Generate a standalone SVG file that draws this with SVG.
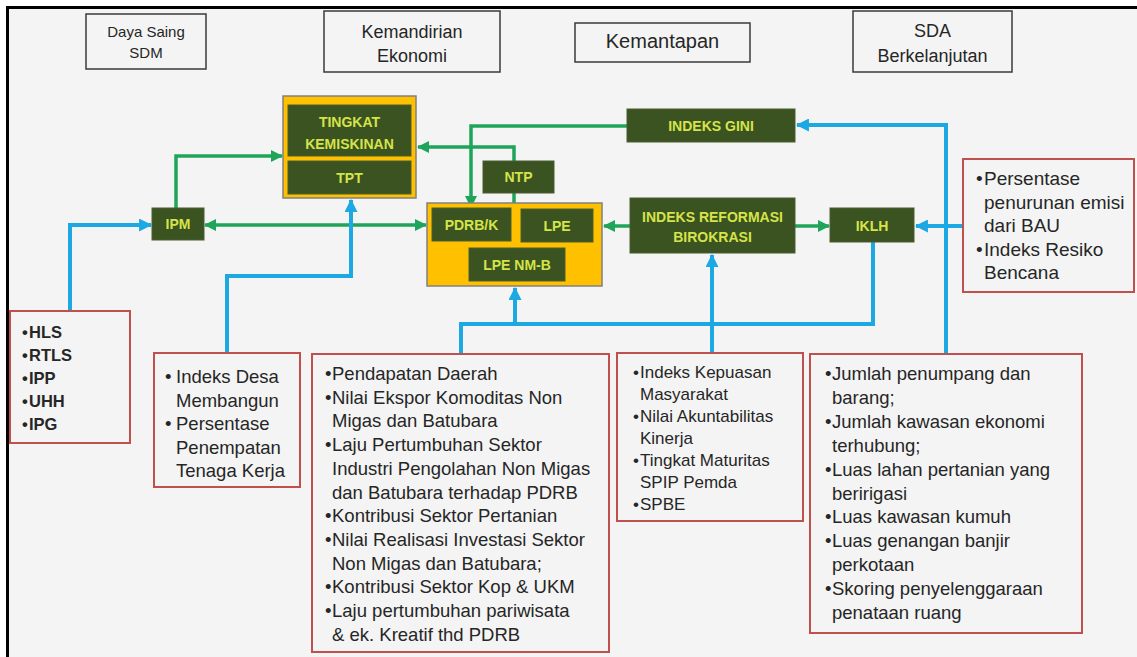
<svg xmlns="http://www.w3.org/2000/svg" width="1137" height="657" viewBox="0 0 1137 657">
<defs>
<style>
text{font-family:"Liberation Sans",Arial,sans-serif}
.hdr rect{fill:#f4f4f4;stroke:#3a3a3a;stroke-width:1.5}
.hdr text{fill:#262626;text-anchor:middle}
.cont{fill:#ffc000;stroke:#808080;stroke-width:1.5}
.node rect.n{fill:#3b5320;stroke:#4a5e30;stroke-width:1}
.node text{fill:#d4e44a;font-size:14px;font-weight:bold;text-anchor:middle}
.ind rect{fill:#f4f4f4;stroke:#c0504d;stroke-width:2}
.ind text{fill:#262626}
.gl{fill:none;stroke:#1fa55a;stroke-width:3.5}
.bl{fill:none;stroke:#1ca8e3;stroke-width:4}
</style>
<marker id="ag" viewBox="0 0 12 12" markerUnits="userSpaceOnUse" markerWidth="12" markerHeight="12" refX="11" refY="6" orient="auto-start-reverse"><path d="M0,0 L12,6 L0,12 z" fill="#1fa55a"/></marker>
<marker id="ab" viewBox="0 0 12 12" markerUnits="userSpaceOnUse" markerWidth="13" markerHeight="13" refX="11" refY="6" orient="auto-start-reverse"><path d="M0,0 L12,6 L0,12 z" fill="#1ca8e3"/></marker>
</defs>
<rect x="0" y="0" width="1137" height="657" fill="#ffffff"/>
<rect x="7.5" y="7.5" width="1140" height="660" fill="#f4f4f4" stroke="#000" stroke-width="3"/>

<g id="hdr-daya-saing" class="hdr"><rect x="86" y="14" width="120" height="55"/><text x="146" y="37" font-size="15">Daya Saing</text><text x="146" y="58" font-size="15">SDM</text></g>
<g id="hdr-kemandirian" class="hdr"><rect x="324" y="11" width="176" height="61"/><text x="412" y="38" font-size="18">Kemandirian</text><text x="412" y="62" font-size="18">Ekonomi</text></g>
<g id="hdr-kemantapan" class="hdr"><rect x="575" y="23" width="175" height="39"/><text x="662.5" y="48" font-size="20">Kemantapan</text></g>
<g id="hdr-sda" class="hdr"><rect x="853" y="11" width="159" height="61"/><text x="932.5" y="37" font-size="18">SDA</text><text x="932.5" y="62" font-size="18">Berkelanjutan</text></g>

<g id="connectors">
<path class="gl" d="M176,208 V156 H282" marker-end="url(#ag)"/>
<path class="gl" d="M205,225 H426" marker-start="url(#ag)" marker-end="url(#ag)"/>
<path class="gl" d="M627,126 H471 V207" marker-end="url(#ag)"/>
<path class="gl" d="M514,203 V147 H418" marker-end="url(#ag)"/>
<path class="gl" d="M630,226 H604" marker-end="url(#ag)"/>
<path class="gl" d="M795,226 H829" marker-end="url(#ag)"/>
<path class="bl" d="M70,311 V225 H151" marker-end="url(#ab)"/>
<path class="bl" d="M227,353 V276 H351 V200" marker-end="url(#ab)"/>
<path class="bl" d="M461,354 V324 H873 V242"/>
<path class="bl" d="M515,324 V288" marker-end="url(#ab)"/>
<path class="bl" d="M712,353 V255" marker-end="url(#ab)"/>
<path class="bl" d="M946,354 V125 H797" marker-end="url(#ab)"/>
<path class="bl" d="M963,226 H916" marker-end="url(#ab)"/>
</g>

<g id="kemiskinan-group" class="node">
<rect class="cont" x="283" y="96" width="133" height="102"/>
<g id="tingkat-kemiskinan"><rect class="n" x="288" y="105" width="123" height="51"/><text x="349.5" y="127">TINGKAT</text><text x="349.5" y="149">KEMISKINAN</text></g>
<g id="tpt"><rect class="n" x="288" y="161" width="123" height="33"/><text x="349.5" y="183">TPT</text></g>
</g>
<g id="ntp" class="node"><rect class="n" x="483" y="161" width="71" height="32"/><text x="518.5" y="182">NTP</text></g>
<g id="ipm" class="node"><rect class="n" x="152" y="208" width="52" height="32"/><text x="178" y="229">IPM</text></g>
<g id="pdrb-group" class="node">
<rect class="cont" x="427" y="203" width="175" height="83"/>
<g id="pdrbk"><rect class="n" x="432" y="208" width="79" height="33"/><text x="471.5" y="230">PDRB/K</text></g>
<g id="lpe"><rect class="n" x="521" y="209" width="72" height="33"/><text x="557" y="231">LPE</text></g>
<g id="lpe-nmb"><rect class="n" x="469" y="248" width="96" height="33"/><text x="517" y="270">LPE NM-B</text></g>
</g>
<g id="indeks-gini" class="node"><rect class="n" x="627" y="109" width="168" height="33"/><text x="711" y="131">INDEKS GINI</text></g>
<g id="indeks-reformasi" class="node"><rect class="n" x="630" y="198" width="165" height="55"/><text x="712.5" y="222">INDEKS REFORMASI</text><text x="712.5" y="242">BIROKRASI</text></g>
<g id="iklh" class="node"><rect class="n" x="830" y="208" width="84" height="34"/><text x="872" y="231">IKLH</text></g>

<g id="ind-sdm" class="ind"><rect x="10" y="311" width="120" height="132"/>
<text font-size="16.5" font-weight="bold">
<tspan x="22" y="338">•</tspan><tspan x="29">HLS</tspan>
<tspan x="22" y="361">•</tspan><tspan x="29">RTLS</tspan>
<tspan x="22" y="384">•</tspan><tspan x="29">IPP</tspan>
<tspan x="22" y="407">•</tspan><tspan x="29">UHH</tspan>
<tspan x="22" y="430">•</tspan><tspan x="29">IPG</tspan>
</text></g>

<g id="ind-desa" class="ind"><rect x="154" y="353" width="146" height="134"/>
<text font-size="18.5">
<tspan x="165" y="383">•</tspan><tspan x="176">Indeks Desa</tspan>
<tspan x="176" y="406.5">Membangun</tspan>
<tspan x="165" y="430">•</tspan><tspan x="176">Persentase</tspan>
<tspan x="176" y="453.5">Penempatan</tspan>
<tspan x="176" y="477">Tenaga Kerja</tspan>
</text></g>

<g id="ind-ekonomi" class="ind"><rect x="312" y="354" width="297" height="298"/>
<text font-size="18.5">
<tspan x="325" y="380">•</tspan><tspan x="332">Pendapatan Daerah</tspan>
<tspan x="325" y="403.7">•</tspan><tspan x="332">Nilai Ekspor Komoditas Non</tspan>
<tspan x="332" y="427.4">Migas dan Batubara</tspan>
<tspan x="325" y="451.1">•</tspan><tspan x="332">Laju Pertumbuhan Sektor</tspan>
<tspan x="332" y="474.8">Industri Pengolahan Non Migas</tspan>
<tspan x="332" y="498.5">dan Batubara terhadap PDRB</tspan>
<tspan x="325" y="522.2">•</tspan><tspan x="332">Kontribusi Sektor Pertanian</tspan>
<tspan x="325" y="545.9">•</tspan><tspan x="332">Nilai Realisasi Investasi Sektor</tspan>
<tspan x="332" y="569.6">Non Migas dan Batubara;</tspan>
<tspan x="325" y="593.3">•</tspan><tspan x="332">Kontribusi Sektor Kop &amp; UKM</tspan>
<tspan x="325" y="617">•</tspan><tspan x="332">Laju pertumbuhan pariwisata</tspan>
<tspan x="332" y="640.7">&amp; ek. Kreatif thd PDRB</tspan>
</text></g>

<g id="ind-birokrasi" class="ind"><rect x="617" y="353" width="186" height="168"/>
<text font-size="17">
<tspan x="633" y="378">•</tspan><tspan x="640">Indeks Kepuasan</tspan>
<tspan x="640" y="400">Masyarakat</tspan>
<tspan x="633" y="422">•</tspan><tspan x="640">Nilai Akuntabilitas</tspan>
<tspan x="640" y="444">Kinerja</tspan>
<tspan x="633" y="466">•</tspan><tspan x="640">Tingkat Maturitas</tspan>
<tspan x="640" y="488">SPIP Pemda</tspan>
<tspan x="633" y="510">•</tspan><tspan x="640">SPBE</tspan>
</text></g>

<g id="ind-infrastruktur" class="ind"><rect x="810" y="354" width="272" height="279"/>
<text font-size="18.5">
<tspan x="825" y="380">•</tspan><tspan x="832">Jumlah penumpang dan</tspan>
<tspan x="832" y="403.9">barang;</tspan>
<tspan x="825" y="427.8">•</tspan><tspan x="832">Jumlah kawasan ekonomi</tspan>
<tspan x="832" y="451.7">terhubung;</tspan>
<tspan x="825" y="475.6">•</tspan><tspan x="832">Luas lahan pertanian yang</tspan>
<tspan x="832" y="499.5">beririgasi</tspan>
<tspan x="825" y="523.4">•</tspan><tspan x="832">Luas kawasan kumuh</tspan>
<tspan x="825" y="547.3">•</tspan><tspan x="832">Luas genangan banjir</tspan>
<tspan x="832" y="571.2">perkotaan</tspan>
<tspan x="825" y="595.1">•</tspan><tspan x="832">Skoring penyelenggaraan</tspan>
<tspan x="832" y="619">penataan ruang</tspan>
</text></g>

<g id="ind-lingkungan" class="ind"><rect x="963" y="159" width="171" height="133"/>
<text font-size="19">
<tspan x="976" y="185">•</tspan><tspan x="984">Persentase</tspan>
<tspan x="984" y="208.5">penurunan emisi</tspan>
<tspan x="984" y="232">dari BAU</tspan>
<tspan x="976" y="255.5">•</tspan><tspan x="984">Indeks Resiko</tspan>
<tspan x="984" y="279">Bencana</tspan>
</text></g>
</svg>
